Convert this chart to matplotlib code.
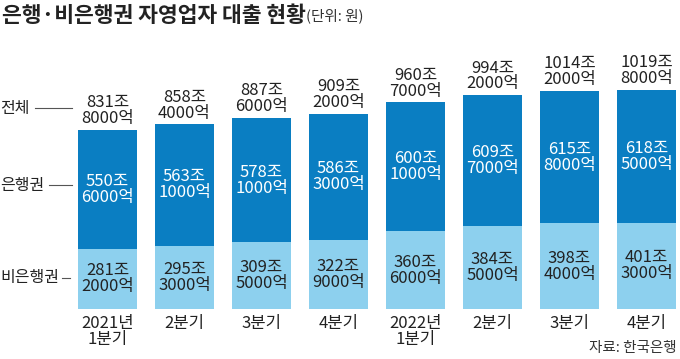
import matplotlib
matplotlib.use('Agg')
from matplotlib import pyplot as plt

plt.rcParams['font.family'] = ['Noto Sans CJK KR', 'DejaVu Sans']

quarters = ['2021년\n1분기', '2분기', '3분기', '4분기', '2022년\n1분기', '2분기', '3분기', '4분기']
bank = [550.6, 563.1, 578.1, 586.3, 600.1, 609.7, 615.8, 618.5]      # 은행권, 조 원
nonbank = [281.2, 295.3, 309.5, 322.9, 360.6, 384.5, 398.4, 401.3]   # 비은행권, 조 원
total = [b + n for b, n in zip(bank, nonbank)]

dark = '#0a7ec2'
light = '#8dd0ee'
txt = '#222222'

def fmt(v):
    jo = int(v)
    eok = int(round((v - jo) * 10000))
    return '%d조\n%d억' % (jo, eok)

fig = plt.figure(figsize=(6.8, 3.59), dpi=100)
# pixel layout: baseline at y=309px, first bar centre x=107.5px, 77px between bars
ax = fig.add_axes([0, 50 / 359, 1, 309 / 359])
scale = 0.215  # px per 조
ax.set_xlim(-107.5 / 77, (680 - 107.5) / 77)
ax.set_ylim(0, 309 / scale)
ax.axis('off')

x = list(range(len(quarters)))
ax.bar(x, nonbank, width=0.77, color=light)
ax.bar(x, bank, bottom=nonbank, width=0.77, color=dark)

fs = 12
for i in x:
    ax.text(i, nonbank[i] / 2, fmt(nonbank[i]), ha='center', va='center',
            fontsize=fs, color=txt, linespacing=0.92)
    ax.text(i, nonbank[i] + bank[i] / 2, fmt(bank[i]), ha='center', va='center',
            fontsize=fs, color='white', linespacing=0.92)
    ax.annotate(fmt(total[i]), (i, total[i]), xytext=(0, 2), textcoords='offset points',
                ha='center', va='bottom', fontsize=fs, color=txt, linespacing=0.92)
    ax.annotate(quarters[i], (i, 0), xytext=(0, -4), textcoords='offset points',
                ha='center', va='top', fontsize=fs, color=txt, linespacing=0.95)

# left side labels with leader lines
def px2x(p):
    return (p - 107.5) / 77

side = [('전체', total[0] + 22 / scale, 35, 72),
        ('은행권', nonbank[0] + bank[0] / 2 + 4 / scale, 49, 72),
        ('비은행권', nonbank[0] / 2 + 1 / scale, 62, 70)]
for name, yy, x0, x1 in side:
    ax.text(px2x(0), yy, name, ha='left', va='center', fontsize=fs - 0.5, color=txt)
    ax.plot([px2x(x0), px2x(x1)], [yy, yy], color='#555555', lw=0.8, clip_on=False)

fig.text(2 / 680, 1 - 15 / 359, '은행·비은행권 자영업자 대출 현황', ha='left', va='center',
         fontsize=15.5, fontweight='bold', color=txt)
fig.text(306 / 680, 1 - 16 / 359, '(단위: 원)', ha='left', va='center',
         fontsize=10.5, color='#333333')
fig.text(677 / 680, 1 - 348 / 359, '자료: 한국은행', ha='right', va='center',
         fontsize=10.5, color='#333333')

fig.savefig('out.png', dpi=100)
